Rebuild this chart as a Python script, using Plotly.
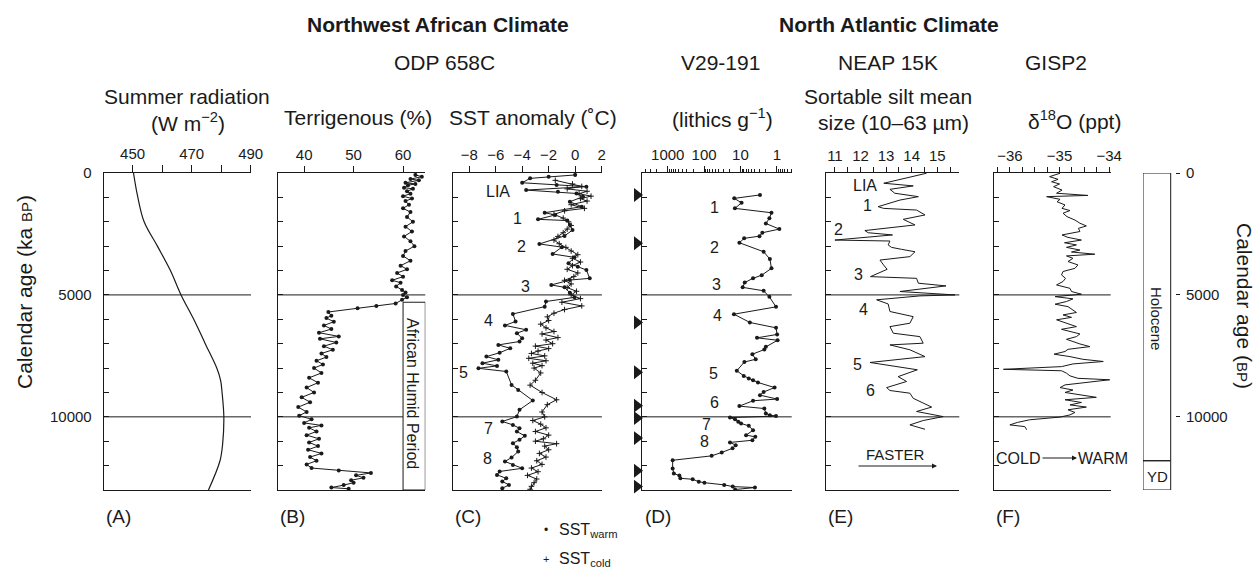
import numpy as np
import plotly.graph_objects as go

W, H = 1256, 570
def px(x): return x / W
def py(y): return 1 - y / H

FONT = "Liberation Sans, Arial, sans-serif"
INK = "#1a1a1a"

# ---------------- data (ages in ka) ----------------
rad_age = [0, 0.9, 2.0, 3.0, 4.0, 5.0, 6.0, 7.0, 8.0, 8.5, 9.0, 10.0, 11.1, 11.8, 13.0]
rad_val = [450.3, 451.6, 453.9, 458.4, 462.8, 466.4, 470.7, 474.6, 478.5, 479.8, 480.3, 480.9, 480.5, 479.6, 475.7]

ter_age = [0.08, 0.15, 0.25, 0.3, 0.4, 0.45, 0.5, 0.6, 0.65, 0.75, 0.85, 0.95, 1.05, 1.15, 1.3, 1.45, 1.6, 1.8,
           2.0, 2.2, 2.4, 2.6, 2.8, 3.0, 3.2, 3.4, 3.6, 3.8, 3.95, 4.1, 4.25, 4.4, 4.5, 4.65, 4.8, 4.9, 5.0,
           5.1, 5.2, 5.35, 5.45, 5.55, 5.7, 5.85, 5.95, 6.1, 6.25, 6.4, 6.55, 6.7, 6.8, 6.95, 7.1, 7.25, 7.4,
           7.55, 7.7, 7.85, 8.0, 8.2, 8.4, 8.6, 8.8, 9.0, 9.2, 9.4, 9.6, 9.8, 9.95, 10.1, 10.25, 10.35, 10.45,
           10.6, 10.75, 10.9, 11.05, 11.2, 11.35, 11.5, 11.65, 11.8, 11.95, 12.1, 12.2, 12.3, 12.4, 12.5, 12.6,
           12.7, 12.8, 12.9, 12.95]
ter_val = [62.5, 63.8, 61.5, 63.2, 60.5, 62.5, 61.0, 60.2, 62.0, 60.8, 61.5, 60.0, 61.8, 60.5, 61.2, 60.0, 61.5, 60.8,
           62.0, 60.5, 61.8, 60.2, 61.5, 62.3, 60.5, 60.0, 61.5, 59.5, 60.8, 58.8, 60.0, 57.8, 59.5, 58.6, 59.8, 60.5, 60.0,
           60.8, 59.8, 58.5, 54.6, 50.8, 44.9, 45.5, 44.5, 46.0, 44.0, 45.5, 43.0, 47.0, 43.2, 46.5, 44.0, 45.8, 43.5,
           44.5, 42.5, 43.8, 42.0, 43.5, 41.0, 42.8, 40.5, 42.0, 39.5, 41.2, 38.8, 40.5, 39.0, 41.5, 40.0, 43.5, 41.0,
           42.5, 40.5, 43.0, 41.0, 42.8, 40.8, 43.5, 41.2, 42.5, 40.5, 41.5, 47.0, 53.5, 50.5, 52.0, 49.5,
           50.0, 48.0, 45.5, 49.0]

sstw_age = [0.08, 0.15, 0.22, 0.40, 0.49, 0.56, 0.70, 0.77, 0.84, 0.97, 1.18, 1.38, 1.63, 1.72, 1.90, 1.95, 2.13,
            2.34, 2.58, 2.91, 3.04, 3.32, 3.46, 3.70, 3.84, 3.98, 4.32, 4.39, 4.59, 4.69, 4.91, 5.10, 5.27, 5.48,
            5.78, 6.09, 6.25, 6.43, 6.57, 6.78, 6.91, 7.05, 7.19, 7.37, 7.53, 7.66, 7.80, 7.91, 8.01, 8.14, 8.69,
            8.90, 9.33, 9.71, 9.99, 10.19, 10.33, 10.47, 10.60, 10.78, 10.94, 11.08, 11.25, 11.42, 11.67, 11.83,
            11.97, 12.11, 12.24, 12.38, 12.52, 12.65, 12.79, 12.93]
sstw_val = [0.0, -2.0, -3.4, -4.0, -1.4, 0.85, -3.7, -1.3, 0.1, 0.6, -0.4, 0.5, -2.3, -1.5, -2.8, -0.6, -0.4,
            -0.2, -0.8, -2.7, -1.0, -1.7, -0.05, -0.5, 0.2, 0.85, 1.1, -0.4, -1.8, -0.8, -0.4, -0.05, -2.2, -2.3,
            -4.7, -4.5, -5.3, -3.7, -4.4, -4.0, -4.2, -5.8, -4.9, -5.7, -6.7, -5.8, -7.0, -5.9, -7.3, -5.2, -4.8,
            -4.3, -3.2, -4.2, -4.4, -5.5, -4.7, -4.2, -4.4, -3.8, -4.2, -4.7, -4.4, -4.3, -4.8, -5.3,
            -4.7, -4.0, -5.7, -5.9, -5.2, -5.5, -5.0, -5.5]

sstc_age = [0.3, 0.45, 0.55, 0.65, 0.75, 0.85, 0.95, 1.05, 1.15, 1.3, 1.45, 1.55, 1.7, 1.85, 2.0, 2.15, 2.3, 2.45,
            2.6, 2.75, 2.9, 3.05, 3.2, 3.35, 3.5, 3.65, 3.8, 3.95, 4.1, 4.25, 4.4, 4.55, 4.7, 4.85, 5.0, 5.15,
            5.3, 5.45, 5.6, 5.75, 5.9, 6.05, 6.2, 6.35, 6.5, 6.6, 6.75, 6.85, 7.0, 7.1, 7.2, 7.3, 7.4, 7.5, 7.6,
            7.7, 7.8, 7.9, 8.0, 8.2, 8.5, 8.7, 9.0, 9.3, 9.5, 9.8, 10.0, 10.15, 10.3, 10.45, 10.6, 10.75, 10.9,
            11.0, 11.1, 11.2, 11.35, 11.5, 11.65, 11.8, 11.95, 12.1, 12.25, 12.4, 12.55, 12.7, 12.85, 12.97]
sstc_val = [-1.5, -0.2, 0.5, -0.6, 0.9, 0.3, 1.2, 0.4, 0.9, -0.3, 0.7, -0.8, -1.6, -0.9, -0.5, -0.3, -0.6, -0.9,
            -1.3, -1.6, -1.2, -0.7, -0.3, 0.2, -0.2, 0.4, -0.2, -0.6, 0.2, -0.1, -0.8, -0.3, -0.6, 0.1, -0.3, 0.4,
            -1.0, 0.5, -0.8, -1.6, -2.1, -2.0, -2.6, -2.2, -1.6, -2.5, -1.3, -2.2, -1.7, -3.0, -2.0, -2.8, -3.3, -2.3, -3.5,
            -2.2, -3.2, -2.5, -3.1, -2.6, -3.0, -3.4, -2.5, -1.4, -2.1, -2.5, -2.3, -3.2, -2.6, -2.2, -3.0, -2.0, -2.4,
            -3.0, -1.4, -2.3, -2.0, -2.7, -2.2, -2.9, -2.5, -3.3, -2.8, -3.6, -2.9, -3.1, -3.3, -3.4]

lith_age = [0.90, 1.04, 1.22, 1.45, 1.63, 1.86, 2.07, 2.30, 2.45, 2.59, 2.68, 2.86, 3.23, 3.53, 3.91, 4.19, 4.32,
            4.49, 4.69, 4.83, 5.08, 5.49, 5.79, 6.13, 6.35, 6.62, 6.76, 6.86, 7.13, 7.24, 7.43, 7.64, 7.75, 8.11,
            8.32, 8.43, 8.50, 8.59, 8.80, 8.98, 9.11, 9.27, 9.34, 9.56, 9.66, 9.86, 9.93, 9.97, 10.03, 10.10,
            10.20, 10.27, 10.37, 10.55, 10.75, 10.82, 10.96, 11.05, 11.16, 11.29, 11.46, 11.60, 11.78, 12.12,
            12.32, 12.41, 12.52, 12.56, 12.66, 12.70, 12.79, 12.86, 12.90, 12.98]
lith_val = [2.9, 14.8, 9.3, 14.2, 1.4, 1.6, 2.0, 0.85, 2.5, 3.0, 7.9, 10.7, 2.3, 1.55, 1.4, 2.6, 4.5,
            7.6, 8.7, 2.3, 1.6, 1.05, 15.1, 5.5, 1.05, 0.98, 3.5, 0.95, 2.0, 2.2, 4.7, 3.8, 7.8, 12.6,
            8.1, 5.9, 4.5, 3.3, 1.15, 2.3, 2.9, 0.98, 4.5, 10.7, 2.2, 2.0, 1.55, 1.05, 19.4, 14.1,
            11.5, 9.6, 5.9, 4.5, 7.0, 3.9, 4.7, 19.4, 13.5, 16.5, 32.7, 62.0, 733.0, 733.0,
            680.0, 480.0, 450.0, 206.0, 140.0, 98.0, 28.0, 16.3, 4.0, 14.0]
ams_age = [0.90, 2.88, 6.13, 8.17, 9.54, 10.05, 10.87, 12.21, 12.86]

silt_age = [0.01, 0.26, 0.42, 0.53, 0.67, 0.83, 0.97, 1.11, 1.38, 1.45, 1.52, 1.72, 1.90, 2.13, 2.36, 2.45, 2.54,
            2.75, 2.79, 2.95, 3.05, 3.13, 3.23, 3.43, 3.57, 3.77, 3.95, 4.25, 4.32, 4.52, 4.63, 4.86, 5.00, 5.04,
            5.20, 5.37, 5.68, 5.89, 6.16, 6.30, 6.57, 6.71, 6.98, 7.05, 7.25, 7.53, 7.77, 8.07, 8.35, 8.55, 8.80,
            8.92, 9.03, 9.24, 9.44, 9.60, 9.78, 9.99, 10.15, 10.33, 10.51]
silt_val = [14.58, 13.54, 12.91, 14.06, 13.15, 13.34, 14.26, 13.54, 12.69, 12.9, 14.19, 14.52, 13.67, 14.13, 12.17, 12.3, 13.25,
            11.0, 13.15, 13.08, 13.21, 13.6, 14.13, 13.93, 12.76, 12.9, 13.04, 12.39, 14.19, 14.26, 15.34, 13.54, 15.69, 14.32,
            12.63, 13.08, 13.15, 14.06, 13.93, 13.15, 13.28, 14.32, 14.45, 13.15, 13.93, 14.52, 12.37, 14.22, 13.47, 13.8, 13.02,
            13.15, 13.93, 14.06, 14.45, 14.78, 14.19, 15.23, 14.45, 13.93, 14.52]

gisp_age = [0.01, 0.15, 0.26, 0.36, 0.45, 0.56, 0.70, 0.83, 0.92, 0.97, 1.08, 1.18, 1.31, 1.45, 1.54, 1.65, 1.79,
            1.93, 2.06, 2.17, 2.27, 2.40, 2.54, 2.64, 2.75, 2.86, 2.95, 3.05, 3.16, 3.24, 3.33, 3.40, 3.50, 3.63,
            3.77, 3.91, 4.04, 4.18, 4.32, 4.45, 4.59, 4.73, 4.86, 4.97, 5.07, 5.16, 5.27, 5.38, 5.48, 5.62, 5.72,
            5.82, 5.92, 6.02, 6.16, 6.30, 6.41, 6.50, 6.60, 6.71, 6.82, 6.91, 7.01, 7.12, 7.23, 7.32, 7.43, 7.53,
            7.64, 7.73, 7.83, 7.94, 8.05, 8.11, 8.21, 8.32, 8.42, 8.48, 8.60, 8.69, 8.80, 8.90, 9.00, 9.10, 9.20,
            9.30, 9.41, 9.51, 9.60, 9.71, 9.82, 9.92, 10.01, 10.12, 10.23, 10.33, 10.40, 10.53]
gisp_val = [-34.99, -35.20, -35.03, -35.16, -35.0, -35.12, -34.95, -35.06, -34.43, -35.26, -34.99, -35.05, -34.89, -34.95,
            -34.79, -34.93, -34.85, -34.69, -34.59, -34.46, -34.62, -34.59, -34.95, -34.83, -34.56, -34.90, -34.66,
            -34.86, -34.59, -34.76, -34.29, -34.86, -34.73, -34.83, -34.63, -34.69, -34.93, -34.96, -34.88, -34.93,
            -35.06, -34.79, -34.76, -34.56, -35.09, -34.73, -34.86, -35.09, -34.83, -34.73, -34.66, -34.93, -34.76,
            -35.06, -34.86, -34.66, -34.96, -34.76, -34.59, -34.66, -34.86, -34.73, -34.59, -34.39, -34.83, -34.89,
            -35.11, -34.79, -34.53, -34.12, -34.73, -34.96, -36.13, -34.96, -34.86, -34.79, -34.63, -33.99, -34.59,
            -34.89, -34.99, -34.73, -34.89, -34.53, -34.26, -34.89, -34.56, -34.79, -34.46, -34.83, -34.69, -34.79,
            -34.99, -35.60, -35.85, -36.00, -35.70, -35.66]

period_bounds = [0, 11.8, 13.0]          # Holocene / Younger Dryas (ka)
period_names = ["Holocene", "YD"]
ahp_top = 5.3                           # African Humid Period box top (ka)
guide_ages = [5.0, 10.0]

def yrs(a):
    return np.asarray(a) * 1000.0

# ---------------- layout geometry ----------------
Y0, Y1 = py(490), py(173)
dom = {1: (103.7, 251.0), 2: (277.7, 425.3), 3: (453.3, 601.9), 4: (642.3, 791.7),
       5: (825.7, 959.3), 6: (994.0, 1110.7)}
xr = {1: [440.2, 490.1], 2: [34.65, 64.5], 3: [-9.2, 2.02], 4: [3.70, -0.41],
      5: [10.64, 15.86], 6: [-36.32, -33.97]}
STRIP = (1143.0, 1175.0)
BOX_FRAC = (1170.7 - STRIP[0]) / (STRIP[1] - STRIP[0])

fig = go.Figure()

line = dict(color=INK, width=1)
fig.add_trace(go.Scatter(x=rad_val, y=yrs(rad_age), mode="lines", line=dict(color=INK, width=1.2, shape="spline"),
                         xaxis="x", yaxis="y", showlegend=False))
fig.add_trace(go.Scatter(x=ter_val, y=yrs(ter_age), mode="lines+markers", line=line,
                         marker=dict(size=4, color=INK), xaxis="x2", yaxis="y2", showlegend=False))
fig.add_trace(go.Scatter(x=sstc_val, y=yrs(sstc_age), mode="lines+markers", line=line,
                         marker=dict(size=4, symbol="cross-thin", line=dict(color=INK, width=1)),
                         xaxis="x3", yaxis="y3", showlegend=False))
fig.add_trace(go.Scatter(x=sstw_val, y=yrs(sstw_age), mode="lines+markers", line=line,
                         marker=dict(size=4, color=INK), xaxis="x3", yaxis="y3", showlegend=False))
fig.add_trace(go.Scatter(x=lith_val, y=yrs(lith_age), mode="lines+markers", line=line,
                         marker=dict(size=4, color=INK), xaxis="x4", yaxis="y4", showlegend=False))
fig.add_trace(go.Scatter(x=[0.5] * len(ams_age), y=yrs(ams_age), mode="markers",
                         marker=dict(size=12, symbol="triangle-right", color=INK), cliponaxis=False,
                         xaxis="x8", yaxis="y4", showlegend=False))
fig.add_trace(go.Scatter(x=silt_val, y=yrs(silt_age), mode="lines", line=line,
                         xaxis="x5", yaxis="y5", showlegend=False))
fig.add_trace(go.Scatter(x=gisp_val, y=yrs(gisp_age), mode="lines", line=line,
                         xaxis="x6", yaxis="y6", showlegend=False))

tickfont = dict(family=FONT, size=15, color=INK)
yticks = list(range(0, 13000, 1000))
ytext = [str(v) if v % 5000 == 0 else "" for v in yticks]

def xax(i, **kw):
    d = dict(domain=[px(dom[i][0]), px(dom[i][1])], anchor="y" if i == 1 else f"y{i}", side="top",
             range=xr[i], showline=True, mirror=True, linecolor=INK, linewidth=1, ticks="outside",
             ticklen=6, tickcolor=INK, showgrid=False, zeroline=False, tickfont=tickfont, automargin=False)
    d.update(kw)
    return d

def yax(i, labels=False):
    return dict(domain=[Y0, Y1], anchor="x" if i == 1 else f"x{i}", range=[13000, 0], tickvals=yticks,
                ticktext=ytext, ticks="inside", ticklen=5, tickcolor=INK, showline=True, linecolor=INK,
                linewidth=1, showgrid=False, zeroline=False, showticklabels=labels, tickfont=tickfont,
                ticklabelstandoff=8, automargin=False)

minors_log = [m * 10.0 ** e for e in range(-1, 4) for m in range(2, 10)]
minors_log = [v for v in minors_log if 0.39 < v < 5000]

fig.update_layout(
    template="none",
    width=W, height=H, autosize=False, margin=dict(l=0, r=0, t=0, b=0, pad=0, autoexpand=False),
    paper_bgcolor="white", plot_bgcolor="rgba(0,0,0,0)",
    font=dict(family=FONT, color=INK),
    xaxis=xax(1, tickvals=[450, 460, 470, 480, 490], ticktext=["450", "", "470", "", "490"], ticklen=7),
    xaxis2=xax(2, tickvals=[40, 50, 60], ticktext=["40", "50", "60"]),
    xaxis3=xax(3, tickvals=[-8, -6, -4, -2, 0, 2], ticktext=["\u22128", "\u22126", "\u22124", "\u22122", "0", "2"]),
    xaxis4=xax(4, type="log", tickvals=[1000, 100, 10, 1], ticktext=["1000", "100", "10", "1"],
               minor=dict(tickvals=minors_log, ticks="outside", ticklen=3, tickcolor=INK)),
    xaxis5=xax(5, tickvals=[11, 12, 13, 14, 15], ticktext=["11", "12", "13", "14", "15"], ticklen=5,
               minor=dict(dtick=0.5, ticks="outside", ticklen=5, tickcolor=INK)),
    xaxis6=xax(6, tickvals=[-36, -35, -34], ticktext=["\u221236", "\u221235", "\u221234"], ticklen=5,
               minor=dict(dtick=0.25, ticks="outside", ticklen=5, tickcolor=INK)),
    xaxis7=dict(domain=[px(STRIP[0]), px(STRIP[1])], anchor="y7", range=[0, 1], visible=False, automargin=False),
    xaxis8=dict(domain=[px(630), px(644)], anchor="y4", range=[0, 1], visible=False, automargin=False),
    yaxis=yax(1, True), yaxis2=yax(2), yaxis3=yax(3), yaxis4=yax(4), yaxis5=yax(5), yaxis6=yax(6),
    yaxis7=dict(domain=[Y0, Y1], anchor="x7", side="right", range=[13000, 0],
                tickvals=[0, 5000, 10000], ticktext=["0", "5000", "10000"], ticks="outside", ticklen=4,
                tickcolor=INK, showline=False, showgrid=False, zeroline=False, tickfont=tickfont,
                ticklabelstandoff=3, automargin=False),
)

shapes = []
for i in range(1, 7):
    xs = "x" if i == 1 else f"x{i}"
    ys = "y" if i == 1 else f"y{i}"
    for g in guide_ages:
        if i == 2 and g > ahp_top:
            shapes.append(dict(type="line", xref=xs, yref=ys, x0=xr[2][0], x1=60, y0=g * 1000, y1=g * 1000,
                               line=dict(color=INK, width=1)))
        else:
            shapes.append(dict(type="line", xref=f"{xs} domain", yref=ys, x0=0, x1=1, y0=g * 1000, y1=g * 1000,
                               line=dict(color=INK, width=1)))
shapes.append(dict(type="rect", xref="x2", yref="y2", x0=60, x1=xr[2][1], y0=ahp_top * 1000, y1=13000,
                   line=dict(color=INK, width=1)))
for k in range(len(period_names)):
    shapes.append(dict(type="rect", xref="x7", yref="y7", x0=0, x1=BOX_FRAC, y0=period_bounds[k] * 1000,
                       y1=period_bounds[k + 1] * 1000, line=dict(color=INK, width=1)))
fig.update_layout(shapes=shapes)

ann = []
def T(x, y, text, size=21, **kw):
    d = dict(x=px(x), y=py(y), xref="paper", yref="paper", text=text, showarrow=False,
             font=dict(family=FONT, size=size, color=INK), xanchor="center", yanchor="middle")
    d.update(kw)
    ann.append(d)

T(438, 24, "<b>Northwest African Climate</b>", 21)
T(889, 24, "<b>North Atlantic Climate</b>", 21)
T(444.5, 62, "ODP 658C")
T(720.5, 62, "V29-191")
T(887.5, 62, "NEAP 15K")
T(1056, 62, "GISP2")
T(187, 97, "Summer radiation")
T(188, 122, "(W m<sup>\u22122</sup>)")
T(357.5, 118, "Terrigenous (%)")
T(533, 118, "SST anomaly (\u02daC)")
T(722.5, 118, "(lithics g<sup>\u22121</sup>)")
T(888, 97, "Sortable silt mean")
T(893, 122, "size (10\u201363 \u00b5m)")
T(1074, 120, "\u03b4<sup>18</sup>O (ppt)")

T(24, 292, "Calendar age (ka <span style='font-size:15px'>BP</span>)", 21, textangle=-90)
T(1245, 306, "Calendar age (<span style='font-size:15px'>BP</span>)", 21, textangle=90)

for lab, x in zip(["(A)", "(B)", "(C)", "(D)", "(E)", "(F)"], [104, 277.7, 453.3, 643, 826, 994]):
    T(x, 516, lab, 19, xanchor="left")

T(546, 530, "\u2022", 12)
T(557, 530, "SST<sub>warm</sub>", 16, xanchor="left")
T(546, 559, "+", 11)
T(557, 559, "SST<sub>cold</sub>", 16, xanchor="left")

for t, x, y in [("LIA", 498, 192), ("1", 517, 218), ("2", 521, 246), ("3", 525, 286), ("4", 488, 320),
                ("5", 464, 372), ("7", 488, 428), ("8", 487, 458),
                ("1", 714, 207), ("2", 714, 247), ("3", 716, 284), ("4", 717, 316), ("5", 713, 373),
                ("6", 714, 402), ("7", 706, 424), ("8", 704, 441),
                ("LIA", 865, 185), ("1", 867, 205), ("2", 838, 230), ("3", 858, 275), ("4", 863, 309),
                ("5", 857, 364), ("6", 870, 390)]:
    T(x, y, t, 16)

T(413, 393, "African Humid Period", 16, textangle=90)
T(1157, 318, period_names[0], 15, textangle=90)
T(1157, 476, period_names[1], 15)

T(895, 454, "FASTER", 15)
ann.append(dict(x=px(937), y=py(466), xref="paper", yref="paper", ax=-80, ay=0, text="", showarrow=True,
                arrowhead=2, arrowsize=1, arrowwidth=1, arrowcolor=INK))
T(1017.5, 458, "COLD", 16)
ann.append(dict(x=px(1077), y=py(458), xref="paper", yref="paper", ax=-36, ay=0, text="", showarrow=True,
                arrowhead=2, arrowsize=1, arrowwidth=1, arrowcolor=INK))
T(1103, 458, "WARM", 16)

fig.update_layout(annotations=ann)
fig.write_html("out.html", config={"displayModeBar": False, "responsive": False},
               post_script="document.body.style.margin='0';")
